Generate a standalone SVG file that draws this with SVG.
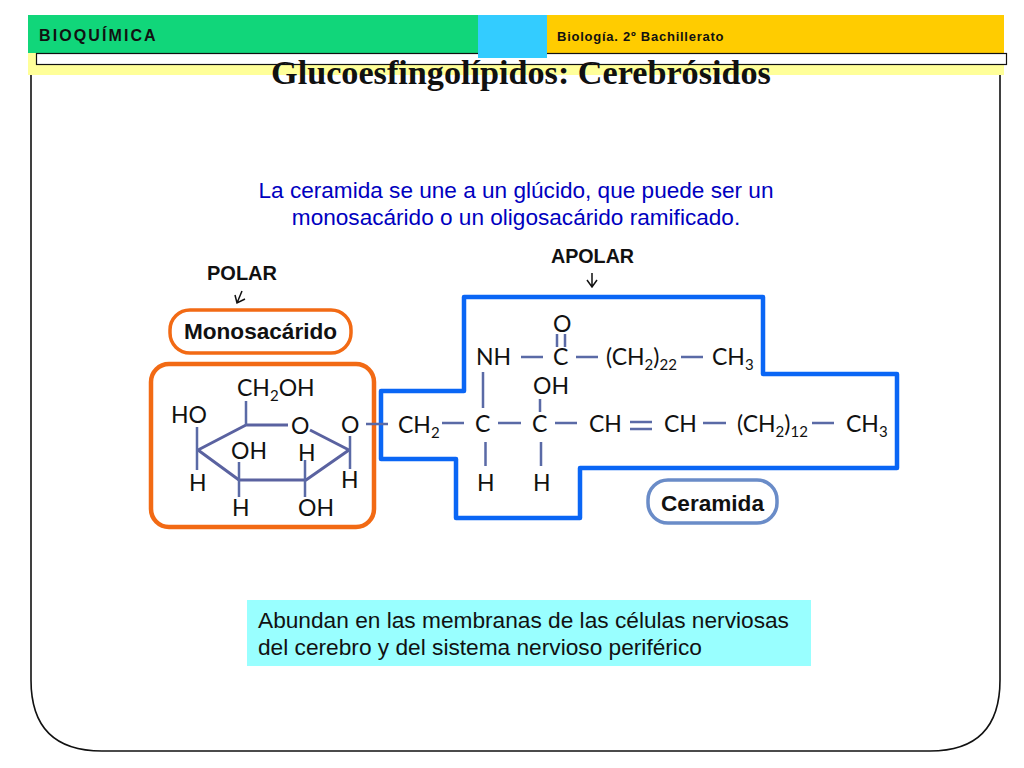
<svg xmlns="http://www.w3.org/2000/svg" width="1024" height="768" viewBox="0 0 1024 768">
<style>
.sans{font-family:"Liberation Sans",Arial,sans-serif}
.b{font-weight:bold}
.chem{font-family:Lato,"Open Sans",sans-serif;font-size:23px;fill:#111}
.sub{font-size:15px}
.bond{stroke:#5a6aa6;stroke-width:2.5;fill:none}
.ring{stroke:#5a62a0;stroke-width:3;fill:none;stroke-linejoin:round}
.arr{stroke:#111;stroke-width:1.500;fill:none}
.blue{font-size:22.600px;fill:#0000c0;text-anchor:middle}
.dark{font-size:22.700px;fill:#111}
</style>
<rect width="1024" height="768" fill="#fff"/>
<g id="frame">
<path d="M31 70V680Q31 751 102 751H930Q1000 751 1000 680V70" fill="#fff" stroke="#111" stroke-width="1.600"/>
</g>
<g id="header">
<rect x="28" y="53" width="976" height="22" fill="#ffff99"/>
<rect x="28" y="15" width="450" height="38" fill="#11d67a"/>
<rect x="547" y="15" width="457" height="38" fill="#ffcc00"/>
<rect x="36.500" y="53.500" width="970" height="11" fill="#fff" stroke="#111" stroke-width="1.200"/>
<rect x="478" y="15" width="69" height="43" fill="#33ccff"/>
<text class="sans b" x="39" y="41" font-size="16" letter-spacing="2.100" fill="#111">BIOQUÍMICA</text>
<text class="sans b" x="557" y="41" font-size="13" letter-spacing=".75" fill="#111">Biología. 2º Bachillerato</text>
</g>
<text id="title" x="521" y="84" text-anchor="middle" font-family="'Liberation Serif','Times New Roman',serif" font-weight="bold" font-size="34.200" fill="#111">Glucoesfingolípidos: Cerebrósidos</text>
<g id="intro">
<text class="sans blue" x="516" y="198">La ceramida se une a un glúcido, que puede ser un</text>
<text class="sans blue" x="516" y="225">monosacárido o un oligosacárido ramificado.</text>
</g>
<g id="polar">
<text class="sans b" x="242" y="280" font-size="20" text-anchor="middle" fill="#111">POLAR</text>
</g>
<g id="apolar">
<text class="sans b" x="592.500" y="263" font-size="19.700" text-anchor="middle" fill="#111">APOLAR</text>
</g>
<g id="monosacarido-label">
<rect x="170" y="310" width="181" height="43" rx="20" fill="#fff" stroke="#f26a14" stroke-width="3.500"/>
<text class="sans b" x="260.500" y="339" font-size="22.600" text-anchor="middle" fill="#111">Monosacárido</text>
</g>
<g id="ceramida-box">
<path d="M464 297H763V374H897V468H580V518H456V459H381V391H464Z" fill="#fff" stroke="#0a66f5" stroke-width="4.500" stroke-linejoin="round"/>
</g>
<g id="monosacarido-box">
<rect x="151" y="364" width="223" height="163" rx="18" fill="#fff" stroke="#f26a14" stroke-width="4.500"/>
</g>
<g id="ceramida-label">
<rect x="648" y="480" width="129" height="43" rx="20" fill="#fff" stroke="#6a8cc8" stroke-width="3.500"/>
<text class="sans b" x="712.500" y="511" font-size="22.600" text-anchor="middle" fill="#111">Ceramida</text>
</g>
<g id="connectors">
<path class="arr" d="M242 291L237 303M235 295L237 303L245 299M592 273V287M587 280L592 287L597 280"/>
<path class="ring" d="M288 425H246L198 450L239 480H306L349 450L310 430"/>
<path class="bond" d="M246 401V425M197 427V470M239 462V497M305 460V497M350 436V469M366 424H388M442 423H464M498 423H521M555 423H577M630 422H652M630 429H652M703 423H726M812 423H834M521 357H543M576 357H598M681 357H703M557 334V347M565 334V347M483 372V408M540 399V412M485.500 442V466M541 442V466"/>
</g>
<g id="sugar-atoms">
<text class="chem" x="237" y="396">CH<tspan class="sub" dy="5">2</tspan><tspan dy="-5">OH</tspan></text>
<text class="chem" x="171" y="423">HO</text>
<text class="chem" x="291" y="434">O</text>
<text class="chem" x="341" y="433">O</text>
<text class="chem" x="231" y="459">OH</text>
<text class="chem" x="298" y="461">H</text>
<text class="chem" x="189" y="491">H</text>
<text class="chem" x="341" y="488">H</text>
<text class="chem" x="232" y="516">H</text>
<text class="chem" x="298" y="516">OH</text>
</g>
<g id="ceramide-atoms">
<text class="chem" x="398" y="433">CH<tspan class="sub" dy="5">2</tspan></text>
<text class="chem" x="476" y="365">NH</text>
<text class="chem" x="553" y="332">O</text>
<text class="chem" x="553" y="365">C</text>
<text class="chem" x="606" y="365">(CH<tspan class="sub" dy="5">2</tspan><tspan dy="-5">)</tspan><tspan class="sub" dy="5">22</tspan></text>
<text class="chem" x="712" y="365">CH<tspan class="sub" dy="5">3</tspan></text>
<text class="chem" x="533" y="394">OH</text>
<text class="chem" x="475" y="432">C</text>
<text class="chem" x="532" y="432">C</text>
<text class="chem" x="589" y="432">CH</text>
<text class="chem" x="664" y="432">CH</text>
<text class="chem" x="737" y="432">(CH<tspan class="sub" dy="5">2</tspan><tspan dy="-5">)</tspan><tspan class="sub" dy="5">12</tspan></text>
<text class="chem" x="846" y="432">CH<tspan class="sub" dy="5">3</tspan></text>
<text class="chem" x="477" y="491">H</text>
<text class="chem" x="533" y="491">H</text>
</g>
<g id="note">
<rect x="247" y="600" width="564" height="66" fill="#99ffff"/>
<text class="sans dark" x="258" y="628">Abundan en las membranas de las células nerviosas</text>
<text class="sans dark" x="258" y="655">del cerebro y del sistema nervioso periférico</text>
</g>
</svg>
